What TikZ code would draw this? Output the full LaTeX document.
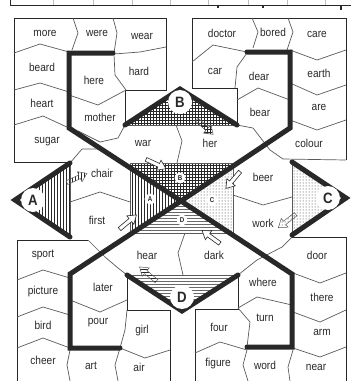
\documentclass[tikz,border=0pt]{standalone}
\usepackage{fontspec}
\setmainfont{Liberation Sans}
\newfontfamily\wordfont{Liberation Sans}[FakeStretch=0.88]
\usetikzlibrary{patterns}
\definecolor{inkgray}{RGB}{40,40,40}
\definecolor{cellgray}{RGB}{90,90,90}
\definecolor{hatchgray}{RGB}{105,105,105}

\tikzset{
  pics/blockarrow/.style={code={
    \path[pic actions] (-11,-2) -- (3,-2) -- (3,-5.5) -- (11,0) -- (3,5.5) -- (3,2) -- (-11,2) -- cycle;
  }},
}

\begin{document}
\begin{tikzpicture}[
  x=1pt,y=-1pt,
  cell/.style={draw=cellgray,line width=0.7pt},
  rim/.style={draw=inkgray,line width=1pt},
  bar/.style={draw=inkgray,line width=5pt,line cap=round},
  word/.style={font=\wordfont\fontsize{11.5}{12}\selectfont,text=inkgray,inner sep=0pt},
  bigtag/.style={circle,fill=white,minimum size=24pt,inner sep=0pt,
    font=\wordfont\fontsize{15}{15}\selectfont\bfseries,text=inkgray},
  smalltag/.style={circle,fill=white,minimum size=11pt,inner sep=0pt,
    font=\wordfont\fontsize{7}{7}\selectfont\bfseries,text=inkgray},
  inarrow/.style={draw=inkgray,fill=white,line width=0.6pt},
  outarrow/.style={draw=cellgray,line width=0.5pt,pattern color=inkgray},
]
  \useasboundingbox (0,0) rectangle (351,381);
  % table rule at the top
  \draw[inkgray,line width=0.8pt] (10,0) -- (10,5) -- (351,5);
  \foreach \x in {53,93,132,170,208,248,287,325}
    \draw[black!25,line width=0.6pt] (\x,0) -- (\x,5);
  \foreach \x in {218,263}
    \draw[inkgray,line width=1.8pt] (\x,5) -- (\x,8);
  \draw[inkgray,line width=2.5pt] (341,5) -- (341,10);

  % top-left block
  \draw[rim] (125,125) -- (125,90) -- (166,90) -- (166,18) -- (14,18) -- (14,162) -- (70,162);
  \draw[cell] (73,18) -- (78,33) -- (72,50);
  \draw[cell] (113,18) -- (117,33) -- (114,53);
  \draw[cell] (14,53) -- (40,44) -- (69,52);
  \draw[cell] (114,54) -- (140,52) -- (166,47);
  \draw[cell] (114,54) -- (115,75) -- (126,90);
  \draw[cell] (69,95) -- (98,105) -- (126,90);
  \draw[cell] (14,90) -- (40,83) -- (69,92);
  \draw[cell] (14,125) -- (43,116) -- (69,128);
  \draw[cell] (78,131) -- (100,142) -- (118,138) -- (125,125);
  \draw[cell] (176,125) -- (182,141) -- (177,163);
  \draw[cell] (70,163) -- (82,149) -- (104,149) -- (114,157);
  \draw[cell] (70,202) -- (100,192) -- (130,202);

  % top-right block
  \draw[rim] (237,125) -- (237,88) -- (192,88) -- (192,18) -- (346,18) -- (346,160);
  \draw[cell] (252,18) -- (258,32) -- (253,48);
  \draw[cell] (288,18) -- (293,32) -- (287,50);
  \draw[cell] (192,62) -- (213,45) -- (247,52);
  \draw[cell] (247,53) -- (237,67) -- (235,88);
  \draw[cell] (290,50) -- (317,60) -- (346,50);
  \draw[cell] (290,83) -- (317,95) -- (346,85);
  \draw[cell] (237,100) -- (258,88) -- (290,100);
  \draw[cell] (290,120) -- (317,130) -- (346,120);
  \draw[cell] (237,125) -- (253,128) -- (270,150) -- (283,159) -- (346,160);
  \draw[cell] (233,195) -- (263,205) -- (292,197);

  % bottom-left block
  \draw[rim] (17,381) -- (17,240) -- (88,240);
  \draw[rim] (127,275) -- (127,310) -- (170,310) -- (170,381);
  \draw[cell] (88,240) -- (105,257) -- (118,268) -- (127,275);
  \draw[cell] (17,280) -- (43,270) -- (70,278);
  \draw[cell] (17,317) -- (43,307) -- (70,315);
  \draw[cell] (17,348) -- (43,338) -- (70,348);
  \draw[cell] (70,300) -- (100,312) -- (127,300);
  \draw[cell] (127,310) -- (125,330) -- (120,348);
  \draw[cell] (120,348) -- (115,365) -- (118,381);
  \draw[cell] (120,348) -- (145,358) -- (170,350);
  \draw[cell] (70,350) -- (67,365) -- (70,381);
  \draw[cell] (185,233) -- (178,253) -- (183,275);

  % bottom-right block
  \draw[rim] (238,275) -- (238,309) -- (195,309) -- (195,381);
  \draw[rim] (292,237) -- (346,237) -- (346,381);
  \draw[cell] (292,237) -- (282,247) -- (257,260) -- (238,275);
  \draw[cell] (293,273) -- (320,283) -- (346,273);
  \draw[cell] (293,312) -- (320,322) -- (346,310);
  \draw[cell] (293,348) -- (320,357) -- (346,347);
  \draw[cell] (293,350) -- (288,367) -- (290,381);
  \draw[cell] (247,350) -- (243,365) -- (248,381);
  \draw[cell] (238,308) -- (257,297) -- (292,305);
  \draw[cell] (238,308) -- (250,322) -- (247,347);
  \draw[cell] (195,353) -- (220,342) -- (247,350);

  % centre square, four shaded parts
  \begin{scope}
    \clip (130,163) rectangle (233,233);
    \fill[pattern=grid,pattern color=inkgray] (181,201) -- (60,121) -- (302,121) -- cycle;
    \fill[pattern=vertical lines,pattern color=inkgray] (181,201) -- (60,121) -- (60,281) -- cycle;
    \fill[pattern=dots,pattern color=inkgray] (181,201) -- (302,121) -- (302,281) -- cycle;
    \fill[pattern=horizontal lines,pattern color=hatchgray] (181,201) -- (60,281) -- (302,281) -- cycle;
  \end{scope}
  \draw[cell] (130,163) rectangle (233,233);

  % side triangles
  \fill[pattern=vertical lines,pattern color=inkgray] (15,200) -- (70,163) -- (70,237) -- cycle;
  \fill[pattern=grid,pattern color=inkgray] (125,125) -- (180,89) -- (237,125) -- cycle;
  \fill[pattern=dots,pattern color=inkgray] (292,162) -- (346,198) -- (292,235) -- cycle;
  \fill[pattern=horizontal lines,pattern color=hatchgray] (127,275) -- (182,311) -- (238,275) -- cycle;
  \draw[cell] (70,163) -- (70,237);
  \draw[cell] (125,125) -- (237,125);
  \draw[cell] (292,162) -- (292,235);
  \draw[cell] (127,275) -- (238,275);
  \draw[bar] (70,163) -- (15,200) -- (70,237);
  \draw[bar] (125,125) -- (180,89) -- (237,125);
  \draw[bar] (292,162) -- (346,198) -- (292,235);
  \draw[bar] (127,275) -- (182,311) -- (238,275);

  % the big cross
  \draw[bar] (113,53) -- (69,53) -- (69,128) -- (181,201) -- (292,274) -- (292,347) -- (247,347);
  \draw[bar] (247,52) -- (290,52) -- (290,128) -- (181,201) -- (70,274) -- (70,348) -- (120,348);

  % letters
  \node[bigtag] (tagA) at (33,200) {A};
  \node[bigtag] (tagB) at (180,102) {B};
  \node[bigtag] (tagC) at (328,198) {C};
  \node[bigtag] (tagD) at (182,297) {D};
  \node[smalltag] (midA) at (150,199) {A};
  \node[smalltag] (midB) at (180,178) {B};
  \node[smalltag] (midC) at (212,200) {C};
  \node[smalltag] (midD) at (182,220) {D};

  % arrows
  \pic[outarrow,pattern=vertical lines,rotate=25] (outA) at (77,178) {blockarrow};
  \pic[outarrow,pattern=grid,rotate=-42] (outB) at (205,127) {blockarrow};
  \pic[outarrow,pattern=dots,rotate=-142] (outC) at (287,221) {blockarrow};
  \pic[outarrow,pattern=horizontal lines,rotate=140] (outD) at (148,274) {blockarrow};
  \pic[inarrow,rotate=40] (inA) at (128,222) {blockarrow};
  \pic[inarrow,rotate=-25] (inB) at (156,164) {blockarrow};
  \pic[inarrow,rotate=-130] (inC) at (233,180) {blockarrow};
  \pic[inarrow,rotate=144] (inD) at (211,237) {blockarrow};

  % words
  \node[word] (more) at (45,33) {more};
  \node[word] (were) at (97,33) {were};
  \node[word] (wear) at (142,36) {wear};
  \node[word] (beard) at (42,67) {beard};
  \node[word] (here) at (94,80) {here};
  \node[word] (hard) at (139,71) {hard};
  \node[word] (heart) at (42,103) {heart};
  \node[word] (mother) at (100,117) {mother};
  \node[word] (sugar) at (47,142) {sugar};
  \node[word] (war) at (143,143) {war};
  \node[word] (chair) at (102,173) {chair};
  \node[word] (first) at (97,220) {first};
  \node[word] (doctor) at (222,33) {doctor};
  \node[word] (bored) at (273,32) {bored};
  \node[word] (care) at (317,34) {care};
  \node[word] (car) at (215,71) {car};
  \node[word] (dear) at (259,76) {dear};
  \node[word] (earth) at (319,73) {earth};
  \node[word] (bear) at (260,112) {bear};
  \node[word] (are) at (319,107) {are};
  \node[word] (her) at (210,143) {her};
  \node[word] (colour) at (309,143) {colour};
  \node[word] (beer) at (263,177) {beer};
  \node[word] (work) at (263,223) {work};
  \node[word] (sport) at (43,255) {sport};
  \node[word] (hear) at (147,255) {hear};
  \node[word] (picture) at (43,292) {picture};
  \node[word] (later) at (103,287) {later};
  \node[word] (bird) at (43,325) {bird};
  \node[word] (pour) at (98,323) {pour};
  \node[word] (girl) at (142,331) {girl};
  \node[word] (cheer) at (43,360) {cheer};
  \node[word] (art) at (91,366) {art};
  \node[word] (air) at (139,367) {air};
  \node[word] (dark) at (214,255) {dark};
  \node[word] (door) at (317,255) {door};
  \node[word] (where) at (263,282) {where};
  \node[word] (there) at (322,297) {there};
  \node[word] (turn) at (265,318) {turn};
  \node[word] (four) at (219,327) {four};
  \node[word] (arm) at (322,332) {arm};
  \node[word] (figure) at (218,364) {figure};
  \node[word] (word) at (265,365) {word};
  \node[word] (near) at (316,367) {near};
\end{tikzpicture}
\end{document}
